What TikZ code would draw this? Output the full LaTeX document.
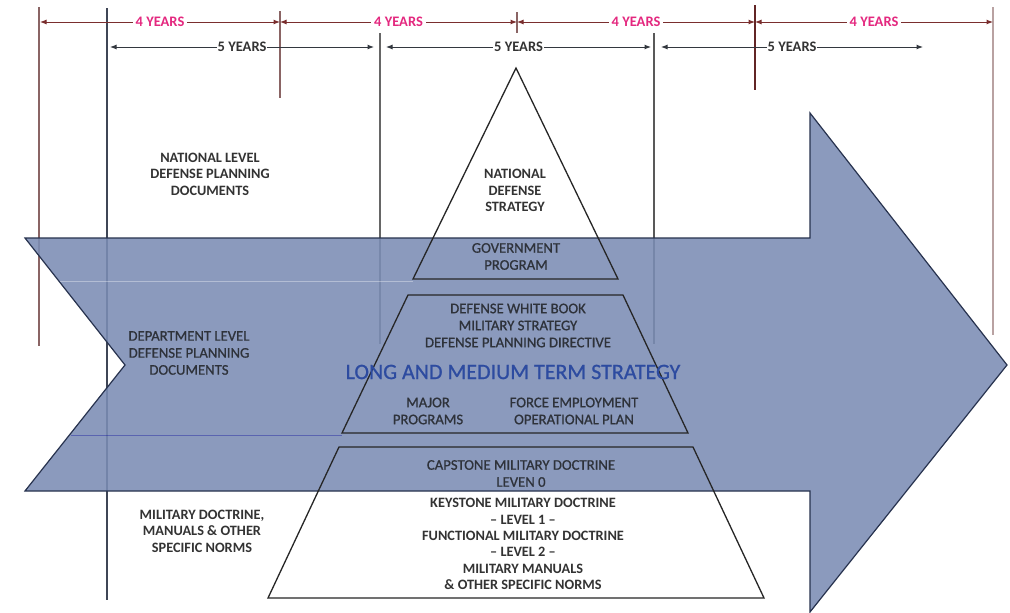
\documentclass[tikz,border=0pt]{standalone}
\usepackage{fontspec}
\setmainfont{Carlito}
\newfontfamily\semib[FakeBold=0.8]{Carlito}
\usetikzlibrary{arrows.meta}
\definecolor{arrowblue}{HTML}{7B8DB5}
\definecolor{arrowedge}{HTML}{27324E}
\definecolor{yearred}{HTML}{E4287F}
\definecolor{redline}{HTML}{7A2E2E}
\definecolor{darkline}{HTML}{33383F}
\definecolor{txt}{HTML}{333333}
\definecolor{txtb}{HTML}{2E323A}
\definecolor{bigblue}{HTML}{2D4BA0}
\definecolor{brownv}{HTML}{8A6464}
\definecolor{slatev}{HTML}{3F4656}
\tikzset{
  vline/.style={line width=1.1pt},
  fourrow/.style={redline, line width=1pt, {Latex[length=6.5pt,width=5pt]}-{Latex[length=6.5pt,width=5pt]}},
  fiverow/.style={darkline, line width=1pt, {Latex[length=6.5pt,width=5pt]}-{Latex[length=6.5pt,width=5pt]}},
  fourlbl/.style={fill=white, inner sep=3pt, text=yearred, font=\bfseries\fontsize{14.5}{16}\selectfont},
  fivelbl/.style={fill=white, inner sep=1pt, text=txt, font=\bfseries\fontsize{14.5}{16}\selectfont},
  whitelbl/.style={align=center, inner sep=0pt, text=txt, font=\bfseries\fontsize{14.3}{16.5}\selectfont},
  bluelbl/.style={align=center, inner sep=0pt, text=txtb, font=\semib\fontsize{14.7}{17}\selectfont},
  pyr/.style={draw=black!85, line width=1.3pt},
}
\begin{document}
\begin{tikzpicture}[x=1pt,y=-1pt]
\useasboundingbox (0,0) rectangle (1010,613);
\fill[white] (0,0) rectangle (1010,613);

% tick coordinates
\coordinate (r1a) at (40,22);
\coordinate (r1b) at (280,22);
\coordinate (r1c) at (517,22);
\coordinate (r1d) at (755,22);
\coordinate (r1e) at (993,22);
\coordinate (r2a) at (110,47);
\coordinate (r2b) at (374,47);
\coordinate (r2c) at (386,47);
\coordinate (r2d) at (651,47);
\coordinate (r2e) at (661,47);
\coordinate (r2f) at (923,47);

% vertical lines
\draw[vline, brownv] (39,7) -- (39,346);
\draw[vline, slatev] (107,8) -- (107,600);
\draw[vline, brownv] (280,11) -- (280,98);
\draw[vline, black!60] (380,33) -- (380,344);
\draw[vline, brownv] (517,12) -- (517,33);
\draw[vline, black!65] (654,33) -- (654,344);
\draw[vline, redline!80!black] (755,5) -- (755,90);
\draw[vline, brownv!60] (993,7) -- (993,335);

% top rows
\draw[fourrow] (r1a) -- (r1b) node[fourlbl, midway] (l41) {4 YEARS};
\draw[fourrow] (r1b) -- (r1c) node[fourlbl, midway] (l42) {4 YEARS};
\draw[fourrow] (r1c) -- (r1d) node[fourlbl, midway] (l43) {4 YEARS};
\draw[fourrow] (r1d) -- (r1e) node[fourlbl, midway] (l44) {4 YEARS};
\draw[fiverow] (r2a) -- (r2b) node[fivelbl, midway] (l51) {5 YEARS};
\draw[fiverow] (r2c) -- (r2d) node[fivelbl, midway] (l52) {5 YEARS};
\draw[fiverow] (r2e) -- (r2f) node[fivelbl, midway] (l53) {5 YEARS};

% big arrow
\path[fill=arrowblue, fill opacity=0.88, draw=arrowedge, line width=1.2pt]
  (25,238) -- (810,238) -- (810,113) -- (1007,365) -- (810,612) -- (810,491)
  -- (25,491) -- (125,365) -- cycle;
\draw[white, opacity=0.35, line width=1pt] (60,281) -- (413,281);
\draw[blue!60!black, opacity=0.35, line width=1pt] (71,435) -- (342,435);

% pyramid
\draw[pyr] (516,68) -- (618,279) -- (413,279) -- cycle;
\draw[pyr] (408,295) -- (623,295) -- (688,433) -- (342,433) -- cycle;
\draw[pyr] (339,447) -- (693,447) -- (764,598) -- (268,598) -- cycle;

% texts on the arrow
\node[bluelbl] (dept) at (189,353) {DEPARTMENT LEVEL\\DEFENSE PLANNING\\DOCUMENTS};
\node[bluelbl] (gov) at (516,256.5) {GOVERNMENT\\PROGRAM};
\node[bluelbl] (white) at (518,325.5) {DEFENSE WHITE BOOK\\MILITARY STRATEGY\\DEFENSE PLANNING DIRECTIVE};
\node[bluelbl] (major) at (428,411) {MAJOR\\PROGRAMS};
\node[bluelbl] (force) at (574,411) {FORCE EMPLOYMENT\\OPERATIONAL PLAN};
\node[bluelbl] (cap) at (521,473.5) {CAPSTONE MILITARY DOCTRINE\\LEVEN 0};

% texts on white
\node[whitelbl] (natl) at (210,174) {NATIONAL LEVEL\\DEFENSE PLANNING\\DOCUMENTS};
\node[whitelbl] (mil) at (202,531) {MILITARY DOCTRINE,\\MANUALS \& OTHER\\SPECIFIC NORMS};
\node[whitelbl] (nds) at (515,190.5) {NATIONAL\\DEFENSE\\STRATEGY};
\node[whitelbl, font=\bfseries\fontsize{14.3}{16.4}\selectfont] (key) at (523,544) {KEYSTONE MILITARY DOCTRINE\\-- LEVEL 1 --\\FUNCTIONAL MILITARY DOCTRINE\\-- LEVEL 2 --\\MILITARY MANUALS\\\& OTHER SPECIFIC NORMS};

% big label
\node[inner sep=0pt, text=bigblue, font=\semib\fontsize{22}{26}\selectfont] (long) at (513,372) {LONG AND MEDIUM TERM STRATEGY};
\end{tikzpicture}
\end{document}
